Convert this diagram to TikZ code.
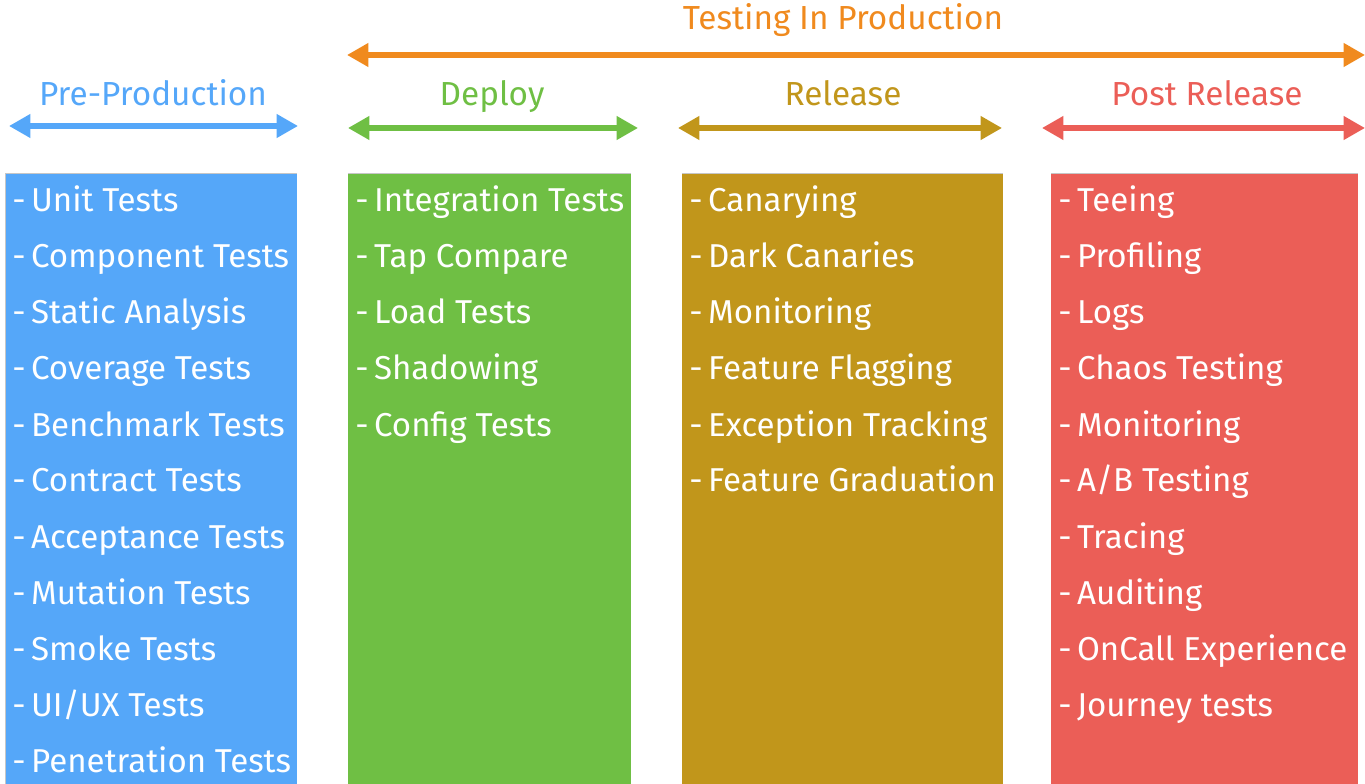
\documentclass[tikz,border=0pt]{standalone}
\usepackage{fontspec}
\setmainfont{Fira Sans}
\usetikzlibrary{arrows.meta}
\definecolor{cblue}{HTML}{55A7F9}
\definecolor{cgreen}{HTML}{6FBF44}
\definecolor{cgold}{HTML}{C1961B}
\definecolor{cred}{HTML}{EB5E57}
\definecolor{corange}{HTML}{F08A1E}
\tikzset{
  colbox/.style={draw=gray!45, line width=0.6pt},
  itemtxt/.style={anchor=base west, inner sep=0pt, text=white, font=\fontsize{24.8}{30}\selectfont},
  titletxt/.style={anchor=base, inner sep=0pt, font=\fontsize{25}{30}\selectfont},
  span/.style={line width=3.8pt, {Triangle[length=16pt,width=17pt]}-{Triangle[length=16pt,width=17pt]}},
}
\begin{document}
\begin{tikzpicture}[x=0.75pt,y=-0.75pt]
\useasboundingbox (0,0) rectangle (1365,784);
% columns
\fill[cblue] (5,173) rectangle (297,784);
\fill[cgreen] (348,173) rectangle (631,784);
\fill[cgold] (682,173) rectangle (1003,784);
\fill[cred] (1051,173) rectangle (1358,784);
\draw[colbox] (5,784) -- (5,173) -- (297,173);
\draw[colbox] (348,173) -- (631,173);
\draw[colbox] (682,173) -- (1003,173);
\draw[colbox] (1051,173) -- (1358,173);
% titles
\node[titletxt, text=corange] (tip) at (843,30) {Testing In Production};
\node[titletxt, text=cblue] (tpre) at (153,106) {Pre-Production};
\node[titletxt, text=cgreen] (tdep) at (492,106) {Deploy};
\node[titletxt, text=cgold] (trel) at (843,106) {Release};
\node[titletxt, text=cred] (tpost) at (1207,106) {Post Release};
% spans
\coordinate (o1) at (347,55); \coordinate (o2) at (1365,55);
\draw[span, corange] (o1) -- (o2);
\coordinate (b1) at (9,126); \coordinate (b2) at (298,126);
\draw[span, cblue] (b1) -- (b2);
\coordinate (g1) at (348,128); \coordinate (g2) at (638,128);
\draw[span, cgreen] (g1) -- (g2);
\coordinate (y1) at (678,128); \coordinate (y2) at (1002,128);
\draw[span, cgold] (y1) -- (y2);
\coordinate (r1) at (1042,128); \coordinate (r2) at (1365,128);
\draw[span, cred] (r1) -- (r2);
% items
\foreach \t [count=\i from 0] in {Unit Tests, Component Tests, Static Analysis, Coverage Tests, Benchmark Tests, Contract Tests, Acceptance Tests, Mutation Tests, Smoke Tests, UI/UX Tests, Penetration Tests}
  \node[itemtxt] (pre\i) at (12,212+56*\i) {-\,\t};
\foreach \t [count=\i from 0] in {Integration Tests, Tap Compare, Load Tests, Shadowing, Config Tests}
  \node[itemtxt] (dep\i) at (355,212+56*\i) {-\,\t};
\foreach \t [count=\i from 0] in {Canarying, Dark Canaries, Monitoring, Feature Flagging, Exception Tracking, Feature Graduation}
  \node[itemtxt] (rel\i) at (689,212+56*\i) {-\,\t};
\foreach \t [count=\i from 0] in {Teeing, Profiling, Logs, Chaos Testing, Monitoring, A/B Testing, Tracing, Auditing, OnCall Experience, Journey tests}
  \node[itemtxt] (post\i) at (1058,212+56*\i) {-\,\t};
\end{tikzpicture}
\end{document}
